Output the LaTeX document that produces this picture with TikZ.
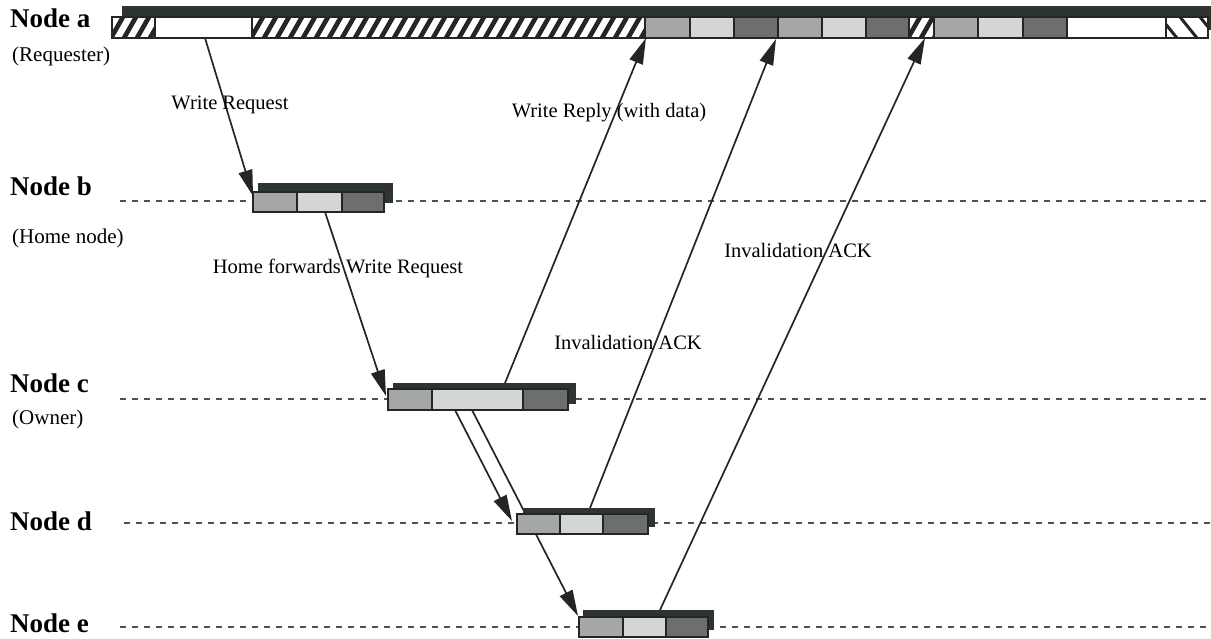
\documentclass[tikz,border=0pt]{standalone}
\usepackage{fontspec}
\setmainfont{Liberation Serif}
\usetikzlibrary{arrows.meta}
\definecolor{gA}{RGB}{165,167,166}
\definecolor{gB}{RGB}{212,214,213}
\definecolor{gC}{RGB}{108,111,109}
\definecolor{shad}{RGB}{45,52,50}
\definecolor{inkc}{RGB}{35,38,37}
\tikzset{
  boxline/.style={draw=inkc, line width=1.2pt},
  cellA/.style={boxline, fill=gA, inner sep=0pt, outer sep=0pt},
  cellB/.style={boxline, fill=gB, inner sep=0pt, outer sep=0pt},
  cellC/.style={boxline, fill=gC, inner sep=0pt, outer sep=0pt},
  cellW/.style={boxline, fill=white, inner sep=0pt, outer sep=0pt},
  shadowbox/.style={fill=shad, draw=none, inner sep=0pt, outer sep=0pt},
  hatchline/.style={draw=inkc, line width=4.6pt},
  hatchthin/.style={draw=inkc, line width=3pt},
  lifeline/.style={draw=inkc!80, line width=1.2pt, dash pattern=on 6pt off 6pt},
  conn/.style={draw=inkc, line width=1.7pt, -{Triangle[length=26pt,width=14pt]}},
  nodename/.style={font=\fontsize{27}{30}\selectfont\bfseries, anchor=base west, inner sep=0pt},
  noderole/.style={font=\fontsize{21}{24}\selectfont, anchor=base west, inner sep=0pt},
  msg/.style={font=\fontsize{20.5}{24}\selectfont, anchor=base, inner sep=0pt}
}
\newcommand\cellbox[6]{\node[#2, minimum width={#4-#3}, minimum height={#6-#5}, anchor=north west] (#1) at (#3,#5) {};}
\newcommand\hatchF[5]{%
  \cellbox{#1}{cellW}{#2}{#3}{#4}{#5}
  \begin{scope}
    \clip (#1.south west) rectangle (#1.north east);
    \pgfmathtruncatemacro\nh{(#3-#2)/13+3}
    \foreach \i in {0,...,\nh}{\draw[hatchline] ({#2-14+\i*13},#5) -- ++(12,{-(#5-#4)});}
  \end{scope}
  \draw[boxline] (#1.south west) rectangle (#1.north east);
}
\newcommand\hatchB[5]{%
  \cellbox{#1}{cellW}{#2}{#3}{#4}{#5}
  \begin{scope}
    \clip (#1.south west) rectangle (#1.north east);
    \pgfmathtruncatemacro\nh{(#3-#2)/20+2}
    \foreach \i in {0,...,\nh}{\draw[hatchthin] ({#2-6+\i*20},#4) -- ++(17,{#5-#4});}
  \end{scope}
  \draw[boxline] (#1.south west) rectangle (#1.north east);
}
\begin{document}
\begin{tikzpicture}[x=1pt,y=-1pt]
\useasboundingbox (0,0) rectangle (1211,638);

% node names
\node[nodename] (na) at (10,27) {Node a};
\node[noderole] (ra) at (12,61) {(Requester)};
\node[nodename] (nb) at (10,195) {Node b};
\node[noderole] (rb) at (12,243) {(Home node)};
\node[nodename] (nc) at (10,392) {Node c};
\node[noderole] (rc) at (12,424) {(Owner)};
\node[nodename] (nd) at (10,530) {Node d};
\node[nodename] (ne) at (10,632) {Node e};

% life lines
\coordinate (bL) at (120,201); \coordinate (bR) at (1211,201);
\coordinate (cL) at (120,399); \coordinate (cR) at (1211,399);
\coordinate (dL) at (124,523); \coordinate (dR) at (1211,523);
\coordinate (eL) at (120,627); \coordinate (eR) at (1211,627);
\draw[lifeline] (bL) -- (bR);
\draw[lifeline] (cL) -- (cR);
\draw[lifeline] (dL) -- (dR);
\draw[lifeline] (eL) -- (eR);

% connector end points
\coordinate (wrS) at (205,38);   \coordinate (wrE) at (253,196);
\coordinate (hfS) at (325,212);  \coordinate (hfE) at (386,396);
\coordinate (cdS) at (455,410);  \coordinate (cdE) at (512,521);
\coordinate (ceS) at (472,410);  \coordinate (ceE) at (578,616);
\coordinate (rpS) at (505,383);  \coordinate (rpE) at (646,38);
\coordinate (idS) at (590,508);  \coordinate (idE) at (776,39);
\coordinate (ieS) at (660,610);  \coordinate (ieE) at (925,38);

\draw[conn] (wrS) -- (wrE);
\draw[conn] (hfS) -- (hfE);
\draw[conn] (cdS) -- (cdE);
\draw[conn] (ceS) -- (ceE);
\draw[conn] (rpS) -- (rpE);
\draw[conn] (idS) -- (idE);
\draw[conn] (ieS) -- (ieE);

% messages
\node[msg] (m1) at (230,109) {Write Request};
\node[msg] (m2) at (609,117) {Write Reply (with data)};
\node[msg] (m3) at (338,273) {Home forwards Write Request};
\node[msg] (m4) at (628,349) {Invalidation ACK};
\node[msg] (m5) at (798,257) {Invalidation ACK};

% Node a bar
\cellbox{aS}{shadowbox}{122}{1211}{6}{30}
\hatchF{a1}{112}{155}{17}{38}
\cellbox{a2}{cellW}{155}{252}{17}{38}
\hatchF{a3}{252}{645}{17}{38}
\cellbox{a4}{cellA}{645}{690}{17}{38}
\cellbox{a5}{cellB}{690}{734}{17}{38}
\cellbox{a6}{cellC}{734}{778}{17}{38}
\cellbox{a7}{cellA}{778}{822}{17}{38}
\cellbox{a8}{cellB}{822}{866}{17}{38}
\cellbox{a9}{cellC}{866}{909}{17}{38}
\hatchF{a10}{909}{934}{17}{38}
\cellbox{a11}{cellA}{934}{978}{17}{38}
\cellbox{a12}{cellB}{978}{1023}{17}{38}
\cellbox{a13}{cellC}{1023}{1067}{17}{38}
\cellbox{a14}{cellW}{1067}{1166}{17}{38}
\hatchB{a15}{1166}{1208}{17}{38}

% Node b bar
\cellbox{bS}{shadowbox}{258}{393}{183}{203}
\cellbox{b1}{cellA}{253}{297}{192}{212}
\cellbox{b2}{cellB}{297}{342}{192}{212}
\cellbox{b3}{cellC}{342}{384}{192}{212}

% Node c bar
\cellbox{cS}{shadowbox}{393}{576}{383}{404}
\cellbox{c1}{cellA}{388}{432}{389}{410}
\cellbox{c2}{cellB}{432}{523}{389}{410}
\cellbox{c3}{cellC}{523}{568}{389}{410}

% Node d bar
\cellbox{dS}{shadowbox}{523}{655}{508}{527}
\cellbox{d1}{cellA}{517}{560}{514}{534}
\cellbox{d2}{cellB}{560}{603}{514}{534}
\cellbox{d3}{cellC}{603}{648}{514}{534}

% Node e bar
\cellbox{eS}{shadowbox}{583}{714}{610}{630}
\cellbox{e1}{cellA}{579}{623}{617}{637}
\cellbox{e2}{cellB}{623}{666}{617}{637}
\cellbox{e3}{cellC}{666}{708}{617}{637}
\end{tikzpicture}
\end{document}
